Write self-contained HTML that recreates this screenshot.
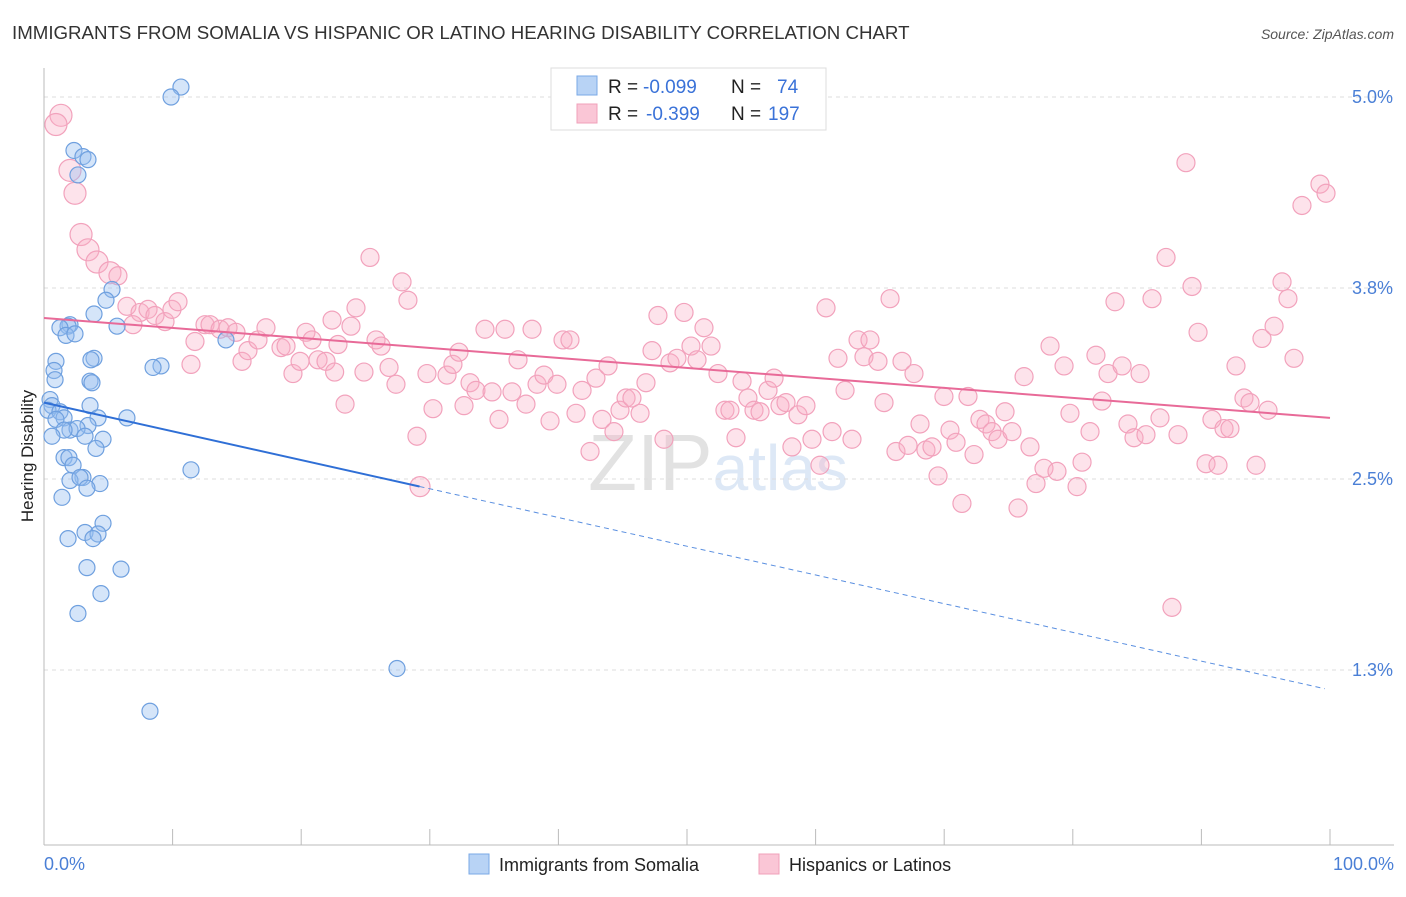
<!DOCTYPE html>
<html><head><meta charset="utf-8"><style>
body{margin:0;background:#fff;font-family:"Liberation Sans",sans-serif;}
svg text{font-family:"Liberation Sans",sans-serif;}
</style></head><body>
<svg id="chart" width="1406" height="892" viewBox="0 0 1406 892" xmlns="http://www.w3.org/2000/svg">
<text x="12" y="39" font-size="18.7" fill="#333">IMMIGRANTS FROM SOMALIA VS HISPANIC OR LATINO HEARING DISABILITY CORRELATION CHART</text>
<text x="1394" y="39" font-size="14" fill="#555" text-anchor="end" font-style="italic">Source: ZipAtlas.com</text>
<text x="718" y="490" font-size="80" fill="#e6e6e6" text-anchor="middle" font-family="Liberation Serif"><tspan fill="#e2e2e2">ZIP</tspan><tspan fill="#dde8f6" font-family="Liberation Sans" font-size="64">atlas</tspan></text>
<g id="grid"></g>
<g id="axes"></g>
<g id="points"></g>
<g id="trends"></g>
<text transform="translate(33,456) rotate(-90)" font-size="17" fill="#222" text-anchor="middle">Hearing Disability</text>
<text x="44" y="870" font-size="18" fill="#4a7fd6">0.0%</text>
<text x="1394" y="870" font-size="18" fill="#4a7fd6" text-anchor="end">100.0%</text>
<g>
<rect x="551" y="68" width="275" height="62" fill="#fff" stroke="#ddd"/>
<rect x="577" y="76" width="20" height="19" fill="#b8d3f5" stroke="#7aa8e6"/>
<rect x="577" y="104" width="20" height="19" fill="#fac6d6" stroke="#f0a0ba"/>
<text x="608" y="93" font-size="19" fill="#222">R =</text>
<text x="643" y="93" font-size="19" fill="#3a72d8">-0.099</text>
<text x="731" y="93" font-size="19" fill="#222">N =</text>
<text x="777" y="93" font-size="19" fill="#3a72d8">74</text>
<text x="608" y="120" font-size="19" fill="#222">R =</text>
<text x="646" y="120" font-size="19" fill="#3a72d8">-0.399</text>
<text x="731" y="120" font-size="19" fill="#222">N =</text>
<text x="768" y="120" font-size="19" fill="#3a72d8">197</text>
</g>
<g>
<rect x="469" y="854" width="20" height="20" fill="#b8d3f5" stroke="#7aa8e6"/>
<text x="499" y="871" font-size="18" fill="#222">Immigrants from Somalia</text>
<rect x="759" y="854" width="20" height="20" fill="#fac6d6" stroke="#f0a0ba"/>
<text x="789" y="871" font-size="18" fill="#222">Hispanics or Latinos</text>
</g>
</svg>
<script>
const yTicks=[5.0,3.75,2.5,1.25];
const yTickLabels=["5.0%","3.8%","2.5%","1.3%"];
const xTicks=[0,10,20,30,40,50,60,70,80,90,100];
const blueX=[10.65,9.88,2.33,3.03,3.42,2.64,5.29,4.82,3.89,2.02,1.87,1.24,5.68,1.71,2.41,14.15,3.89,3.65,0.93,0.78,9.1,8.48,0.86,3.58,3.73,0.47,0.62,3.58,0.31,1.24,4.2,6.45,1.56,0.93,3.42,2.02,2.57,1.56,0.62,3.19,4.59,4.04,1.56,1.94,2.26,11.43,3.03,2.02,2.8,4.35,3.34,1.4,4.59,3.19,4.2,3.81,1.87,3.34,5.99,4.43,2.64,27.45,8.24];
const blueY=[5.065,5.0,4.65,4.61,4.59,4.49,3.74,3.67,3.58,3.51,3.5,3.49,3.5,3.44,3.45,3.41,3.29,3.28,3.27,3.21,3.24,3.23,3.15,3.14,3.13,3.02,2.98,2.98,2.95,2.94,2.9,2.9,2.9,2.89,2.85,2.82,2.83,2.82,2.78,2.78,2.76,2.7,2.64,2.64,2.59,2.56,2.51,2.49,2.51,2.47,2.44,2.38,2.21,2.15,2.14,2.11,2.11,1.92,1.91,1.75,1.62,1.26,0.98];
const pinkX=[1.32,0.93,2.02,2.41,2.88,3.42,4.12,5.13,5.75,6.45,7.47,8.09,8.63,9.41,9.95,10.42,6.92,11.74,12.52,12.91,13.69,14.31,14.93,11.43,15.4,15.86,16.64,17.26,18.43,18.82,19.36,19.91,20.37,20.84,21.31,21.93,22.4,22.86,23.41,23.87,24.26,22.6,24.88,25.35,25.82,26.21,26.83,27.37,27.84,28.3,29.0,29.24,29.78,30.25,31.34,31.8,32.27,32.66,33.13,33.59,34.29,34.84,35.38,35.85,36.39,36.86,37.48,37.95,38.34,38.88,39.35,39.89,40.36,40.9,41.37,41.84,42.46,42.92,43.39,43.86,44.32,44.79,45.26,45.72,46.35,46.81,47.28,47.74,48.21,48.68,49.22,49.77,50.31,50.78,51.32,51.87,52.41,52.95,53.34,53.81,54.28,54.74,55.21,55.68,56.3,56.77,57.23,57.7,58.16,58.63,59.25,59.72,60.34,60.81,61.28,61.74,62.29,62.83,63.3,63.76,64.23,64.85,65.32,65.79,66.25,66.72,67.19,67.65,68.12,68.58,69.05,69.52,69.98,70.45,70.92,71.38,71.85,72.32,72.78,73.25,73.72,74.18,74.73,75.27,75.74,76.21,76.67,77.14,77.76,78.23,78.77,79.32,79.78,80.33,80.72,81.34,81.8,82.27,82.74,83.28,83.83,84.29,84.76,85.23,85.69,86.16,86.78,87.25,87.71,88.18,88.8,89.27,89.74,90.36,90.82,91.29,91.76,92.22,92.69,93.31,93.78,94.25,94.71,95.18,95.65,96.27,96.73,97.2,97.82,99.22,99.69];
const pinkY=[4.88,4.82,4.52,4.37,4.10,4.0,3.92,3.85,3.83,3.63,3.59,3.61,3.57,3.53,3.61,3.66,3.51,3.4,3.51,3.51,3.48,3.49,3.46,3.25,3.27,3.34,3.41,3.49,3.36,3.37,3.19,3.27,3.46,3.41,3.28,3.27,3.54,3.38,2.99,3.5,3.62,3.2,3.2,3.95,3.41,3.37,3.23,3.12,3.79,3.67,2.78,2.45,3.19,2.96,3.18,3.25,3.33,2.98,3.13,3.08,3.48,3.07,2.89,3.48,3.07,3.28,2.99,3.48,3.12,3.18,2.88,3.12,3.41,3.41,2.93,3.08,2.68,3.16,2.89,3.24,2.81,2.95,3.03,3.03,2.93,3.13,3.34,3.57,2.76,3.26,3.29,3.59,3.37,3.28,3.49,3.37,3.19,2.95,2.95,2.77,3.14,3.03,2.95,2.94,3.08,3.16,2.98,3.0,2.71,2.92,2.98,2.76,2.59,3.62,2.81,3.29,3.08,2.76,3.41,3.3,3.41,3.27,3.0,3.68,2.68,3.27,2.72,3.19,2.86,2.69,2.71,2.52,3.04,2.82,2.74,2.34,3.04,2.66,2.89,2.86,2.81,2.76,2.94,2.81,2.31,3.17,2.71,2.47,2.57,3.37,2.55,3.24,2.93,2.45,2.61,2.81,3.31,3.01,3.19,3.66,3.24,2.86,2.77,3.19,2.79,3.68,2.9,3.95,1.66,2.79,4.57,3.76,3.46,2.6,2.89,2.59,2.83,2.83,3.24,3.03,3.0,2.59,3.42,2.95,3.5,3.79,3.68,3.29,4.29,4.43,4.37];
const blueTrend=[3.0,1.12];
const pinkTrend=[3.554,2.90];
const blueSolidEnd=29.2;

const NS="http://www.w3.org/2000/svg";
const X0=44,X1=1330,Y5=97,PXPER=152.8;
function xs(v){return X0+(X1-X0)*v/100;}
function ys(v){return Y5+(5-v)*PXPER;}
function mk(tag,attrs,parent){const e=document.createElementNS(NS,tag);for(const k in attrs)e.setAttribute(k,attrs[k]);parent.appendChild(e);return e;}
const grid=document.getElementById('grid'),axes=document.getElementById('axes'),pts=document.getElementById('points'),tr=document.getElementById('trends');
yTicks.forEach((t,i)=>{
 const l=mk('line',{x1:X0,x2:1394,y1:ys(t),y2:ys(t),stroke:'#ddd','stroke-dasharray':'4,4'},grid);
 
 
 const tx=mk('text',{x:1393,y:ys(t)+6,'font-size':18,fill:'#4a7fd6','text-anchor':'end'},grid);
 tx.textContent=yTickLabels[i];
 
 
});
const ya=mk('line',{x1:X0,x2:X0,y1:68,y2:845,stroke:'#bbb'},axes);


const xa=mk('line',{x1:X0,x2:1394,y1:845,y2:845,stroke:'#bbb'},axes);


xTicks.forEach(t=>{
 const l=mk('line',{x1:xs(t),x2:xs(t),y1:829,y2:845,stroke:'#bbb'},axes);
 
 
});
pinkX.forEach((x,i)=>{
 const r=i<8?11:(i===51?10:9);
 const c=mk('circle',{cx:xs(x),cy:ys(pinkY[i]),r:r,fill:'rgba(248,175,198,0.35)',stroke:'#f2a2bc','stroke-width':1.2},pts);
 
 
});
blueX.forEach((x,i)=>{
 const c=mk('circle',{cx:xs(x),cy:ys(blueY[i]),r:8,fill:'rgba(150,190,240,0.4)',stroke:'#6fa0df','stroke-width':1.2},pts);
 
 
});
function ty(tt,x){return tt[0]+(tt[1]-tt[0])*x/100;}
const b1=mk('line',{x1:xs(0),y1:ys(ty(blueTrend,0)),x2:xs(blueSolidEnd),y2:ys(ty(blueTrend,blueSolidEnd)),stroke:'#2f6fd6','stroke-width':2},tr);


const b2=mk('line',{x1:xs(blueSolidEnd),y1:ys(ty(blueTrend,blueSolidEnd)),x2:xs(99.6),y2:ys(ty(blueTrend,99.6)),stroke:'#5a8fe0','stroke-width':1,'stroke-dasharray':'5,4'},tr);


const p1=mk('line',{x1:xs(0),y1:ys(ty(pinkTrend,0)),x2:xs(100),y2:ys(ty(pinkTrend,100)),stroke:'#e86a98','stroke-width':2},tr);


</script>
</body></html>
